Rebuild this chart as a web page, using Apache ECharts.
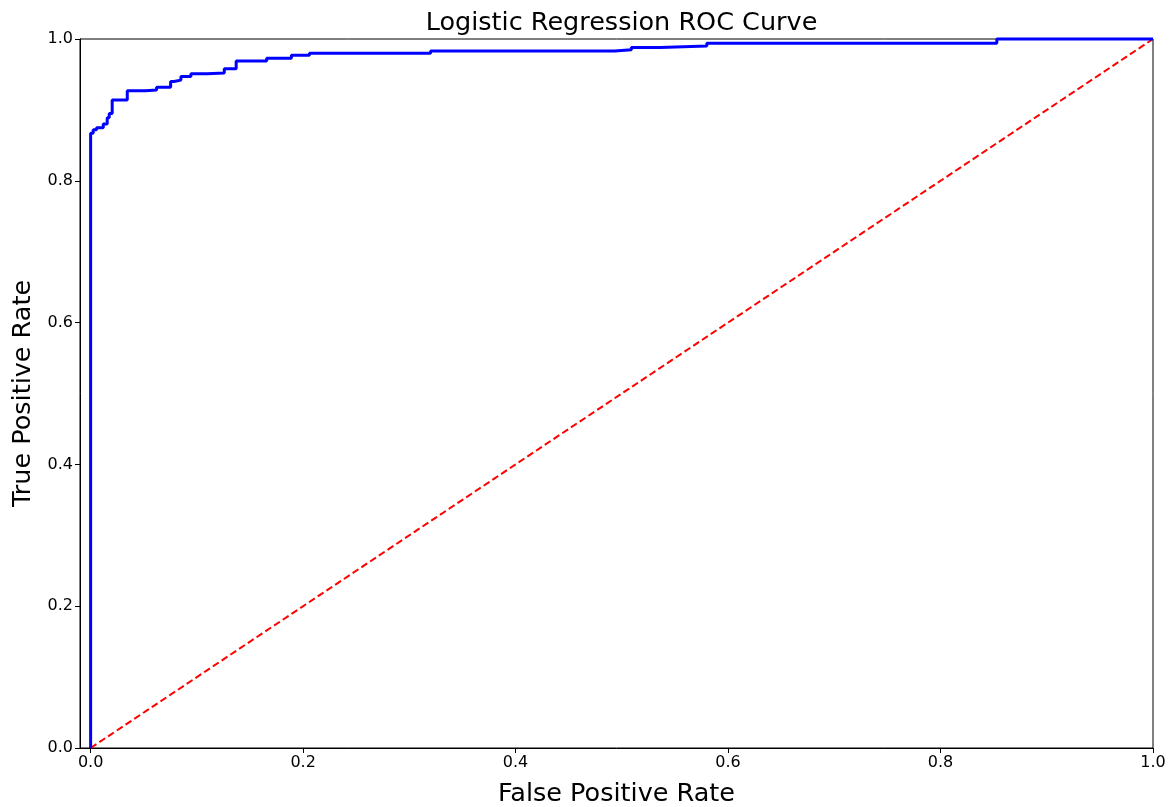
<!DOCTYPE html>
<html>
<head>
<meta charset="utf-8">
<script src="https://cdn.jsdelivr.net/npm/echarts@6/dist/echarts.min.js"></script>
<style>
  html, body { margin: 0; padding: 0; background: #fff; }
  #chart { width: 1172px; height: 807px; }
</style>
</head>
<body>
<div id="chart"></div>
<script>
// ROC curve of the logistic regression classifier: each point is the
// false positive rate at which the true positive rate jumps to the new level.
const fpr = [0.0, 0.0, 0.0024, 0.0056, 0.0119, 0.0156, 0.0175, 0.0203, 0.0345, 0.0518,
             0.0621, 0.0753, 0.0784, 0.0850, 0.0944, 0.1098, 0.1258, 0.1370, 0.1657,
             0.1890, 0.2060, 0.3200, 0.4935, 0.5090, 0.5360, 0.5800, 0.8530, 1.0];
const tpr = [0.0, 0.867, 0.872, 0.875, 0.880, 0.889, 0.895, 0.914, 0.927, 0.928,
             0.932, 0.940, 0.942, 0.947, 0.951, 0.952, 0.958, 0.969, 0.973,
             0.977, 0.980, 0.983, 0.985, 0.988, 0.990, 0.994, 1.0, 1.0];

// Chance line
const chanceX = [0, 1];
const chanceY = [0, 1];

const tickValues = [0, 0.2, 0.4, 0.6, 0.8, 1.0];
const titleText = 'Logistic Regression ROC Curve';
const xName = 'False Positive Rate';
const yName = 'True Positive Rate';

const font = 'DejaVu Sans';

// Plot area box (pixels from the page edges)
const box = { left: 80, right: 19, top: 39, bottom: 59 };
const pageWidth = 1172;

// Staircase vertices: move across at the previous rate, then up to the new one.
const rocData = [[fpr[0], tpr[0]]];
for (let i = 1; i < fpr.length; i++) {
  rocData.push([fpr[i], tpr[i - 1]]);
  rocData.push([fpr[i], tpr[i]]);
}
const chanceData = chanceX.map((x, i) => [x, chanceY[i]]);

const tickLabel = {
  formatter: v => v.toFixed(1),
  fontFamily: font, fontSize: 16, color: '#000', margin: 7
};

const chart = echarts.init(document.getElementById('chart'), null, { renderer: 'canvas' });
chart.setOption({
  animation: false,
  backgroundColor: '#ffffff',
  title: {
    text: titleText,
    // centred over the plot area rather than the page
    left: (box.left + pageWidth - box.right) / 2,
    textAlign: 'center',
    top: 5,
    textStyle: { fontFamily: font, fontSize: 25.5, fontWeight: 'normal', color: '#000' }
  },
  grid: {
    left: box.left, right: box.right, top: box.top, bottom: box.bottom,
    outerBoundsMode: 'none',
    containLabel: false,
    show: true, borderColor: '#000', borderWidth: 1, backgroundColor: 'transparent'
  },
  xAxis: {
    type: 'value',
    min: -0.01, max: 1.0,
    name: xName,
    nameLocation: 'middle',
    nameGap: 33,
    nameTextStyle: { fontFamily: font, fontSize: 25.5, color: '#000' },
    axisLine: { show: true, onZero: false, lineStyle: { color: '#000', width: 1 } },
    axisTick: { show: true, inside: false, length: 5, customValues: tickValues, lineStyle: { color: '#000' } },
    axisLabel: Object.assign({ customValues: tickValues }, tickLabel),
    splitLine: { show: false }
  },
  yAxis: {
    type: 'value',
    min: 0, max: 1.0, interval: 0.2,
    name: yName,
    nameLocation: 'middle',
    nameGap: 43,
    nameTextStyle: { fontFamily: font, fontSize: 25.5, color: '#000' },
    axisLine: { show: true, onZero: false, lineStyle: { color: '#000', width: 1 } },
    axisTick: { show: true, inside: false, length: 5, lineStyle: { color: '#000' } },
    axisLabel: Object.assign({}, tickLabel),
    splitLine: { show: false }
  },
  series: [
    {
      type: 'line',
      data: rocData,
      showSymbol: false,
      clip: false,
      lineStyle: { color: '#0000ff', width: 3 },
      z: 3
    },
    {
      type: 'line',
      data: chanceData,
      showSymbol: false,
      lineStyle: { color: '#ff0000', width: 2, type: [7, 3.5] },
      z: 2
    }
  ]
});
</script>
</body>
</html>
